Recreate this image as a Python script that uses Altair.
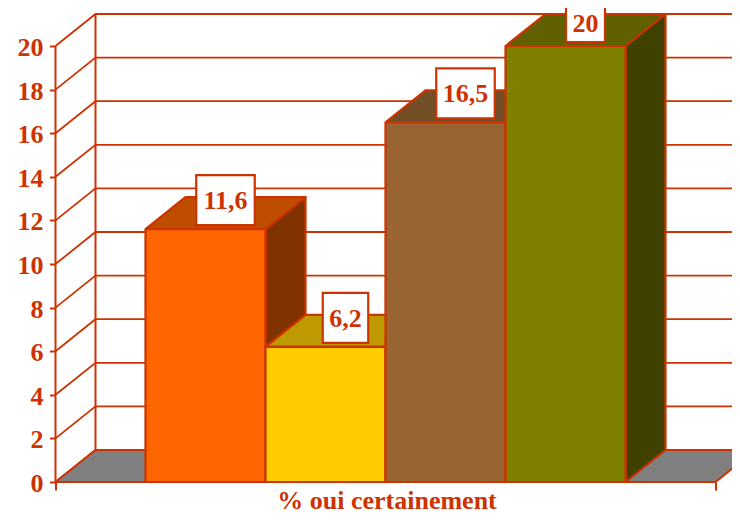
import altair as alt
import pandas as pd

# --- chart values ---
values = [11.6, 6.2, 16.5, 20]
labels = ["11,6", "6,2", "16,5", "20"]
front_colors = ["#FF6600", "#FFCC00", "#996633", "#808000"]
top_colors = ["#BF4D00", "#BF9900", "#734D26", "#606000"]
side_colors = ["#803300", "#806600", "#4D3319", "#404000"]
y_ticks = [0, 2, 4, 6, 8, 10, 12, 14, 16, 18, 20]
x_title = "% oui certainement"

RED = "#CC3300"
FONT = "Liberation Serif"

# geometry expressed in data units (1 x unit = one bar, 1 y unit = one point)
PX_X = 120.0
PX_Y = 21.8
DX = 40 / PX_X
DY = 32 / PX_Y
FIRST = 0.75
AXIS_END = 5.5
FAR = 6.2
TOTAL_W = 724
Y_MAX = 474 / PX_Y
X_MAX = (TOTAL_W - 47.5) / PX_X

polys = []


def add_poly(name, fill, pts):
    for i, (x, y) in enumerate(list(pts) + [pts[0]]):
        polys.append({"poly": name, "seq": i, "x": x, "y": y, "fill": fill})


add_poly("floor", "#808080",
         [(0, 0), (DX, DY), (AXIS_END + DX, DY), (AXIS_END, 0)])

for i, v in enumerate(values):
    x0, x1 = FIRST + i, FIRST + i + 1
    add_poly(f"b{i}a", side_colors[i],
             [(x1, 0), (x1 + DX, DY), (x1 + DX, v + DY), (x1, v)])
    add_poly(f"b{i}b", top_colors[i],
             [(x0, v), (x0 + DX, v + DY), (x1 + DX, v + DY), (x1, v)])
    add_poly(f"b{i}c", front_colors[i],
             [(x0, 0), (x0, v), (x1, v), (x1, 0)])

poly_df = pd.DataFrame(polys)

grid = []
for t in y_ticks:
    grid += [
        {"g": f"g{t}", "seq": 0, "x": 0, "y": t},
        {"g": f"g{t}", "seq": 1, "x": DX, "y": t + DY},
        {"g": f"g{t}", "seq": 2, "x": FAR, "y": t + DY},
    ]
grid_df = pd.DataFrame(grid)

walls_df = pd.DataFrame([
    {"g": "front", "seq": 0, "x": 0, "y": 0},
    {"g": "front", "seq": 1, "x": 0, "y": 20},
    {"g": "back", "seq": 0, "x": DX, "y": DY},
    {"g": "back", "seq": 1, "x": DX, "y": 20 + DY},
    {"g": "base", "seq": 0, "x": 0, "y": 0},
    {"g": "base", "seq": 1, "x": AXIS_END, "y": 0},
])

label_rows = []
for i, (v, s) in enumerate(zip(values, labels)):
    cx = FIRST + i + 0.5 + DX / 2
    cy = v + 29 / PX_Y
    digits = sum(c.isdigit() for c in s)
    commas = s.count(",")
    half = (digits * 13 + commas * 6.5 + 13) / 2 / PX_X
    label_rows.append({
        "label": s, "cx": cx, "cy": cy,
        # keep the text's own box inside the top edge of the picture
        "ty": min(cy, Y_MAX - 15 / PX_Y),
        "x0": cx - half, "x1": cx + half,
        "y0": cy - 25 / PX_Y, "y1": cy + 25 / PX_Y,
    })
label_df = pd.DataFrame(label_rows)

x_scale = alt.Scale(domain=[0, X_MAX], nice=False, zero=False)
y_scale = alt.Scale(domain=[0, Y_MAX], nice=False, zero=False)

x_enc = alt.X(
    "x:Q", scale=x_scale, title=x_title,
    axis=alt.Axis(
        values=[0, AXIS_END], labels=False, grid=False, domain=False,
        tickColor=RED, tickSize=8, tickWidth=2,
        titleFont=FONT, titleFontSize=26, titleFontWeight="bold",
        titleColor=RED, titleX=331, titleY=26, titleAlign="center",
        titleBaseline="alphabetic",
    ),
)
y_enc = alt.Y(
    "y:Q", scale=y_scale, title=None,
    axis=alt.Axis(
        values=y_ticks, grid=False, domain=False, format="d",
        tickColor=RED, tickSize=6, tickWidth=2, labelPadding=6.5,
        labelOffset=1.5,
        labelFont=FONT, labelFontSize=26, labelFontWeight="bold",
        labelColor=RED,
    ),
)

grid_layer = alt.Chart(grid_df).mark_line(
    stroke=RED, strokeWidth=1.8
).encode(x=x_enc, y=y_enc, detail="g:N", order="seq:Q")

floor_layer = alt.Chart(poly_df[poly_df.poly == "floor"]).mark_line(
    stroke=RED, strokeWidth=2, fill="#808080"
).encode(x=alt.X("x:Q", scale=x_scale), y=alt.Y("y:Q", scale=y_scale),
         order="seq:Q")

walls_layer = alt.Chart(walls_df).mark_line(
    stroke=RED, strokeWidth=2
).encode(x=alt.X("x:Q", scale=x_scale), y=alt.Y("y:Q", scale=y_scale),
         detail="g:N", order="seq:Q")

face_layers = []
for name in poly_df.poly.unique():
    if name == "floor":
        continue
    sub = poly_df[poly_df.poly == name]
    face_layers.append(
        alt.Chart(sub).mark_line(
            stroke=RED, strokeWidth=2.2, fill=sub.fill.iloc[0],
            strokeJoin="round",
        ).encode(x=alt.X("x:Q", scale=x_scale), y=alt.Y("y:Q", scale=y_scale),
                 order="seq:Q")
    )

box_layer = alt.Chart(label_df).mark_rect(
    fill="white", stroke=RED, strokeWidth=2.2
).encode(
    x=alt.X("x0:Q", scale=x_scale), x2="x1:Q",
    y=alt.Y("y0:Q", scale=y_scale), y2="y1:Q",
)

text_layer = alt.Chart(label_df).mark_text(
    font=FONT, fontSize=26, fontWeight="bold", color=RED, baseline="middle",
    align="center", dy=1,
).encode(
    x=alt.X("cx:Q", scale=x_scale), y=alt.Y("ty:Q", scale=y_scale), text="label:N"
)

chart = alt.layer(
    grid_layer, floor_layer, walls_layer, *face_layers, box_layer, text_layer
).resolve_scale(x="shared", y="shared").properties(
    width=TOTAL_W - 47.5,
    height=474,
    padding={"left": 47.5, "top": 0, "right": 0, "bottom": 32},
    autosize=alt.AutoSizeParams(type="none"),
    background="white",
).configure_view(stroke=None)

chart.save("out.html", embed_options={"renderer": "svg", "actions": False})
